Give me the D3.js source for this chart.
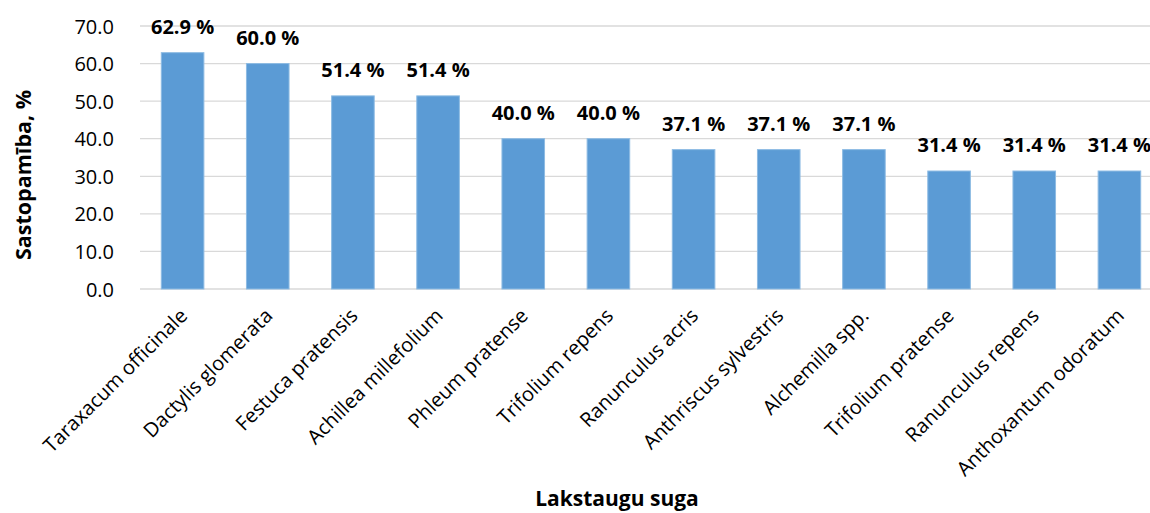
<!DOCTYPE html>
<html>
<head>
<meta charset="utf-8">
<script src="https://cdn.jsdelivr.net/npm/d3@7"></script>
<style>
  body { margin: 0; background: #fff; }
  svg { display: block; font-family: "Open Sans", Lato, sans-serif; }
</style>
</head>
<body>
<div class="bar_chart"></div>
<script>
const species = [
  "Taraxacum officinale", "Dactylis glomerata", "Festuca pratensis",
  "Achillea millefolium", "Phleum pratense", "Trifolium repens",
  "Ranunculus acris", "Anthriscus sylvestris", "Alchemilla spp.",
  "Trifolium pratense", "Ranunculus repens", "Anthoxantum odoratum"
];
const occurrence = [62.9, 60.0, 51.4, 51.4, 40.0, 40.0, 37.1, 37.1, 37.1, 31.4, 31.4, 31.4];
const yTicks = [0, 10, 20, 30, 40, 50, 60, 70];

const width = 1150,
  height = 513;
const margin = { top: 26, right: -12, bottom: 224, left: 140 };

const svg = d3
  .select(".bar_chart")
  .append("svg")
  .attr("width", width)
  .attr("height", height);

const x = d3
  .scaleBand()
  .domain(species)
  .range([margin.left, width - margin.right])
  .paddingInner(0.5)
  .paddingOuter(0.25);

const y = d3
  .scaleLinear()
  .domain([0, 70])
  .range([height - margin.bottom, margin.top]);

// gridlines
svg
  .append("g")
  .selectAll("line")
  .data(yTicks)
  .join("line")
  .attr("x1", margin.left)
  .attr("x2", width - margin.right)
  .attr("y1", (d) => y(d))
  .attr("y2", (d) => y(d))
  .attr("stroke", "#d9d9d9")
  .attr("stroke-width", 1.3);

// y axis labels
const yAxis = svg
  .append("g")
  .attr("transform", "translate(" + (margin.left - 23) + ",0)")
  .call(d3.axisLeft(y).tickValues(yTicks).tickFormat(d3.format(".1f")).tickSize(0));
yAxis.select(".domain").remove();
yAxis
  .selectAll("text")
  .attr("font-family", "'Open Sans', sans-serif")
  .attr("font-size", 20)
  .attr("fill", "#000")
  .attr("dy", "0.35em");

// bars
svg
  .selectAll(".bar")
  .data(occurrence)
  .join("rect")
  .attr("class", "bar")
  .attr("x", (d, i) => x(species[i]))
  .attr("width", x.bandwidth())
  .attr("y", (d) => y(d))
  .attr("height", (d) => y(0) - y(d))
  .attr("fill", "#5b9bd5")
  .attr("stroke", "#8dbbe3")
  .attr("stroke-width", 1);

// value labels
svg
  .selectAll(".val")
  .data(occurrence)
  .join("text")
  .attr("class", "val")
  .attr("x", (d, i) => x(species[i]) + x.bandwidth() / 2)
  .attr("y", (d) => y(d) - 19)
  .attr("text-anchor", "middle")
  .attr("font-size", 20)
  .attr("font-weight", "bold")
  .attr("fill", "#000")
  .text((d) => d.toFixed(1) + " %");

// category labels, rotated
svg
  .selectAll(".cat")
  .data(species)
  .join("text")
  .attr("class", "cat")
  .attr("text-anchor", "end")
  .attr("font-size", 20)
  .attr("fill", "#000")
  .attr("transform", (d) => "translate(" + (x(d) + x.bandwidth() / 2 + 6) + "," + (y(0) + 28) + ") rotate(-45)")
  .text((d) => d);

// axis titles
svg
  .append("text")
  .attr("transform", "translate(31,175) rotate(-90)")
  .attr("text-anchor", "middle")
  .attr("font-size", 21.5)
  .attr("font-weight", "bold")
  .attr("fill", "#000")
  .text("Sastopamība, %");

svg
  .append("text")
  .attr("x", 617)
  .attr("y", 506)
  .attr("text-anchor", "middle")
  .attr("font-size", 21)
  .attr("font-weight", "bold")
  .attr("fill", "#000")
  .text("Lakstaugu suga");
</script>
</body>
</html>
